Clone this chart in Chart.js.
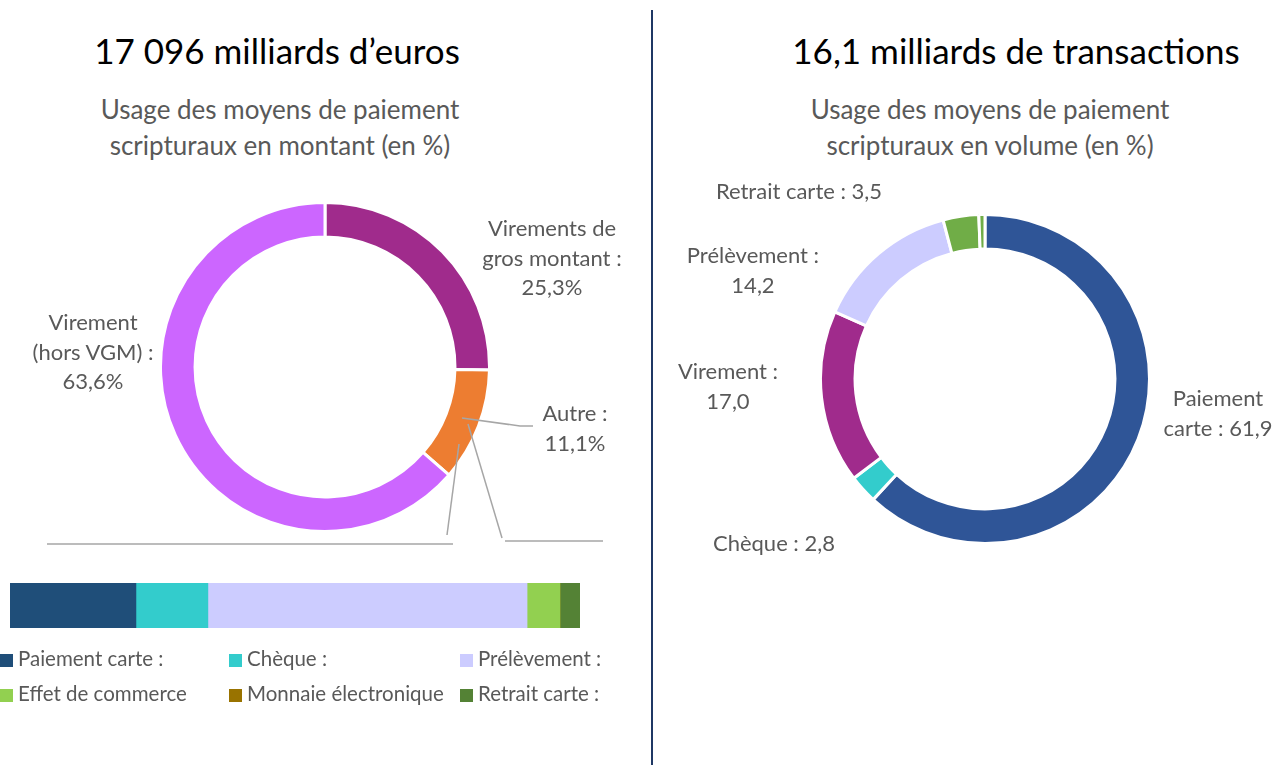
<!DOCTYPE html>
<html><head><meta charset="utf-8">
<script src="https://cdn.jsdelivr.net/npm/chart.js@4.4.1/dist/chart.umd.min.js"></script>
<style>
html,body{margin:0;padding:0;background:#fff;}
body{width:1276px;height:765px;position:relative;overflow:hidden;font-family:Lato,"Open Sans",sans-serif;}
.t{position:absolute;text-align:center;white-space:nowrap;}
.title{font-size:35px;color:#000;line-height:44px;}
.sub{font-size:26px;color:#595959;line-height:36px;}
.lab{font-size:22px;color:#595959;line-height:29.5px;}
.leg{position:absolute;font-size:20.5px;color:#595959;white-space:nowrap;line-height:26px;}
.leg span{display:inline-block;width:13px;height:13px;margin-right:5px;vertical-align:-1px;}
canvas{position:absolute;}
</style></head><body>
<div style="position:absolute;left:651px;top:10px;width:2px;height:755px;background:#1F3864"></div>
<div class="t title" style="left:77px;width:400px;top:28px">17 096 milliards d’euros</div>
<div class="t title" style="left:766px;width:500px;top:28px">16,1 milliards de transactions</div>
<div class="t sub" style="left:80px;width:400px;top:91px">Usage des moyens de paiement<br>scripturaux en montant (en %)</div>
<div class="t sub" style="left:790px;width:400px;top:91px">Usage des moyens de paiement<br>scripturaux en volume (en %)</div>

<div style="position:absolute;left:159px;top:201px;width:332px;height:332px"><canvas id="c1"></canvas></div>
<div style="position:absolute;left:819px;top:213px;width:332px;height:332px"><canvas id="c2"></canvas></div>
<div style="position:absolute;left:10px;top:583px;width:570px;height:45px"><canvas id="c3"></canvas></div>

<svg width="1276" height="765" style="position:absolute;left:0;top:0" xmlns="http://www.w3.org/2000/svg">
<g stroke="#A6A6A6" stroke-width="1.5" fill="none">
<polyline points="462,418 520,426 533,426"/>
<polyline points="468,424 502,538"/>
<polyline points="505,541 603,541"/>
<polyline points="459,444 447,535"/>
<polyline points="47,544 453,544"/>
</g></svg>

<div id="labels"></div>
<div id="legend"></div>

<script>
// Left donut: montant (%)
const montantLabels = ["Virements de gros montant", "Autre", "Virement (hors VGM)"];
const montantValues = [25.3, 11.1, 63.6];
const montantColors = ["#A02B8C", "#ED7D31", "#CC66FF"];

// Right donut: volume (%)
const volumeLabels = ["Paiement carte", "Chèque", "Virement", "Prélèvement", "Retrait carte", "Effet de commerce"];
const volumeValues = [61.9, 2.8, 17.0, 14.2, 3.5, 0.6];
const volumeColors = ["#2F5597", "#33CCCC", "#A02B8C", "#CCCCFF", "#70AD47", "#70AD47"];

// Stacked bar: breakdown of "Autre" (montant, %)
const autreLabels = ["Paiement carte :", "Chèque :", "Prélèvement :", "Effet de commerce", "Monnaie électronique", "Retrait carte :"];
const autreValues = [2.45, 1.40, 6.21, 0.64, 0.0, 0.39];
const autreColors = ["#1F4E79", "#33CCCC", "#CCCCFF", "#92D050", "#997300", "#548235"];

// Data label texts
const montantLabelTexts = ["Virements de<br>gros montant :<br>25,3%", "Autre :<br>11,1%", "Virement<br>(hors VGM) :<br>63,6%"];
const volumeLabelTexts = ["Paiement<br>carte : 61,9", "Chèque : 2,8", "Virement :<br>17,0", "Prélèvement :<br>14,2", "Retrait carte : 3,5"];

const labelPos = [
  [552, 213, montantLabelTexts[0]],
  [575, 398, montantLabelTexts[1]],
  [93, 307, montantLabelTexts[2]],
  [1218, 383, volumeLabelTexts[0]],
  [774, 528, volumeLabelTexts[1]],
  [728, 356, volumeLabelTexts[2]],
  [753, 240, volumeLabelTexts[3]],
  [799, 176, volumeLabelTexts[4]]
];
const L = document.getElementById('labels');
labelPos.forEach(p => {
  const d = document.createElement('div');
  d.className = 't lab';
  d.style.left = (p[0] - 150) + 'px'; d.style.width = '300px'; d.style.top = p[1] + 'px';
  d.innerHTML = p[2];
  L.appendChild(d);
});

const legendPos = [[0, 645], [229, 645], [460, 645], [0, 680], [229, 680], [460, 680]];
const G = document.getElementById('legend');
autreLabels.forEach((lab, i) => {
  const d = document.createElement('div');
  d.className = 'leg';
  d.style.left = legendPos[i][0] + 'px'; d.style.top = legendPos[i][1] + 'px';
  d.innerHTML = '<span style="background:' + autreColors[i] + '"></span>' + lab;
  G.appendChild(d);
});

const commonDonut = {
  responsive: true, maintainAspectRatio: false, animation: false,
  cutout: '79%',
  layout: {padding: 0},
  plugins: {legend: {display: false}, tooltip: {enabled: false}}
};

new Chart(document.getElementById('c1'), {
  type: 'doughnut',
  data: {labels: montantLabels, datasets: [{data: montantValues, backgroundColor: montantColors, borderColor: '#fff', borderWidth: 3}]},
  options: commonDonut
});
new Chart(document.getElementById('c2'), {
  type: 'doughnut',
  data: {labels: volumeLabels, datasets: [{data: volumeValues, backgroundColor: volumeColors, borderColor: '#fff', borderWidth: 3}]},
  options: commonDonut
});

const total = autreValues.reduce((a, b) => a + b, 0);
new Chart(document.getElementById('c3'), {
  type: 'bar',
  data: {
    labels: ["Autre"],
    datasets: autreLabels.map((lab, i) => ({label: lab, data: [autreValues[i]], backgroundColor: autreColors[i], borderWidth: 0, barPercentage: 1, categoryPercentage: 1}))
  },
  options: {
    indexAxis: 'y', responsive: true, maintainAspectRatio: false, animation: false,
    layout: {padding: 0},
    scales: {
      x: {stacked: true, min: 0, max: total, display: false},
      y: {stacked: true, display: false}
    },
    plugins: {legend: {display: false}, tooltip: {enabled: false}}
  }
});
</script>
</body></html>
